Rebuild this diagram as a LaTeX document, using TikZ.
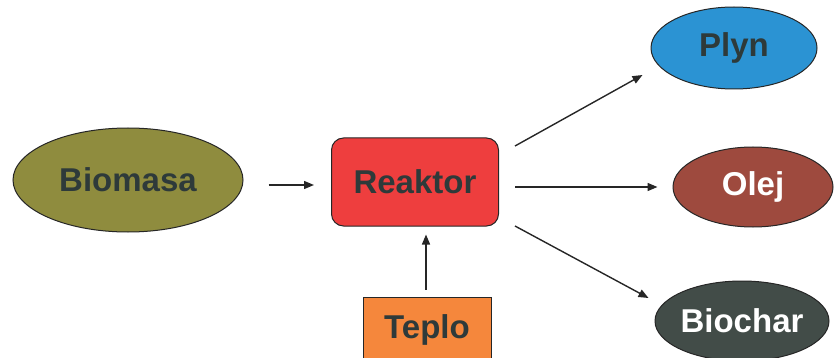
\documentclass[tikz,border=0pt]{standalone}
\usepackage{fontspec}
\setmainfont{Liberation Sans}
\usetikzlibrary{shapes.geometric,arrows.meta}
\definecolor{biocol}{HTML}{8F8C3E}
\definecolor{reakcol}{HTML}{EE3E3E}
\definecolor{teplocol}{HTML}{F5873C}
\definecolor{plyncol}{HTML}{2B93D3}
\definecolor{olejcol}{HTML}{9E4A3E}
\definecolor{charcol}{HTML}{424C48}
\definecolor{txtdark}{HTML}{2E3A3A}
\begin{document}
\begin{tikzpicture}[x=1pt,y=-1pt,
  lab/.style={font=\bfseries\fontsize{33}{33}\selectfont, text=txtdark},
  oval/.style={ellipse, draw=black!85, line width=1pt, inner sep=0pt},
  boxn/.style={rectangle, draw=black!85, line width=1pt, inner sep=0pt},
  arr/.style={-{Triangle[length=10pt,width=8pt]}, line width=1.4pt, draw=black!85}]
\useasboundingbox (0,0) rectangle (834,358);
\clip (0,0) rectangle (834,358);
\node[oval, fill=biocol, minimum width=230pt, minimum height=104pt, lab] (bio) at (128,180) {Biomasa};
\node[boxn, rounded corners=12pt, fill=reakcol, minimum width=167pt, minimum height=88pt, lab] (reak) at (415,182) {Reaktor};
\node[boxn, fill=teplocol, minimum width=128pt, minimum height=66pt, lab] (teplo) at (427,330) {Teplo};
\node[oval, fill=plyncol, minimum width=166pt, minimum height=82pt, lab] (plyn) at (734,48) {Plyn};
\node[oval, fill=olejcol, minimum width=160pt, minimum height=80pt, lab, text=white] (olej) at (753,187) {Olej};
\node[oval, fill=charcol, minimum width=174pt, minimum height=80pt, lab, text=white] (char) at (742,321) {Biochar};
\draw[arr] ([xshift=25pt,yshift=-5pt]bio.east) -- ([xshift=-17pt,yshift=-3pt]reak.west);
\draw[arr] ([xshift=16pt,yshift=36pt]reak.east) -- ([xshift=-8pt,yshift=-27pt]plyn.west);
\draw[arr] ([xshift=16pt,yshift=-5pt]reak.east) -- ([xshift=-15pt]olej.west);
\draw[arr] ([xshift=16pt,yshift=-44pt]reak.east) -- ([xshift=-6pt,yshift=23pt]char.west);
\draw[arr] ([xshift=-1pt,yshift=7pt]teplo.north) -- ([xshift=11pt,yshift=-8pt]reak.south);
\end{tikzpicture}
\end{document}
